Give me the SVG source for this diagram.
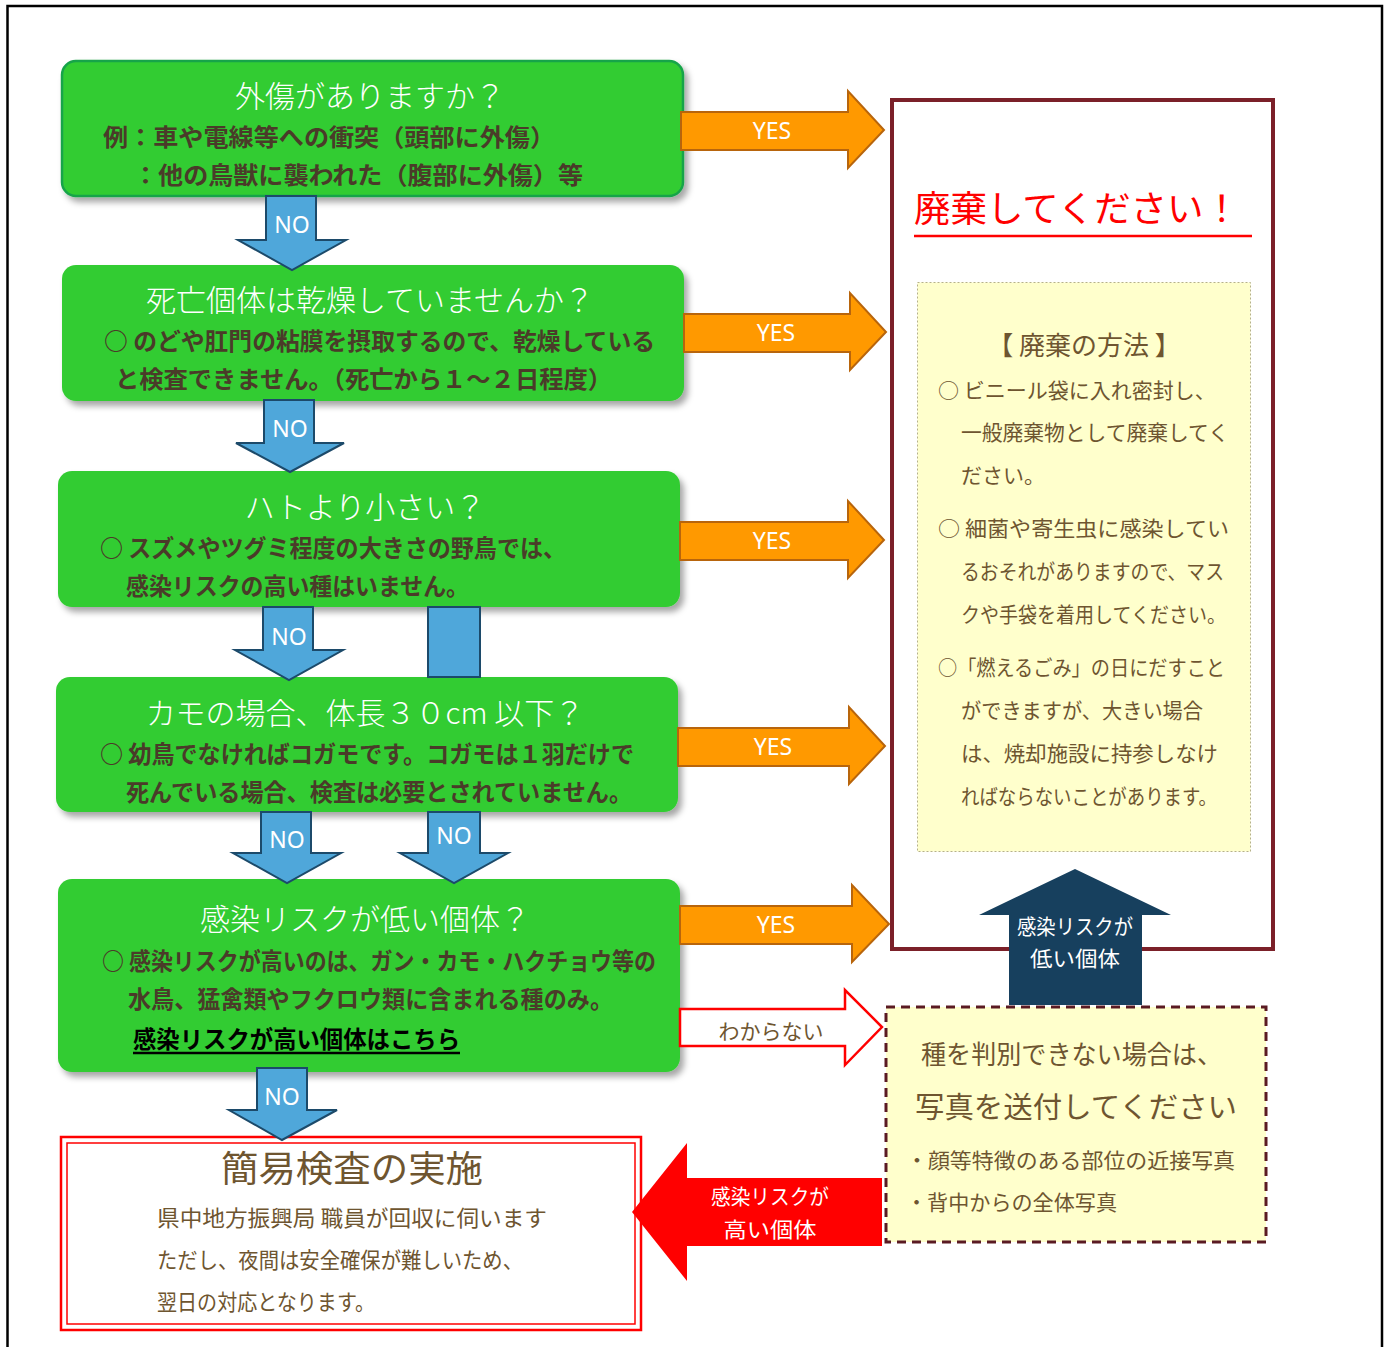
<svg xmlns="http://www.w3.org/2000/svg" width="1389" height="1347" viewBox="0 0 1389 1347">
<defs>
<filter id="sh" x="-5%" y="-10%" width="115%" height="130%">
<feDropShadow dx="4" dy="5" stdDeviation="3" flood-color="#000" flood-opacity="0.35"/>
</filter>
<style>
.gbox{fill:#33cc33;filter:url(#sh)}
.ttl{font-family:"Noto Sans CJK JP","Noto Sans",sans-serif;font-size:30px;fill:#ffffff;text-anchor:middle;font-weight:300}
.bd{font-family:"Noto Sans CJK JP","Noto Sans",sans-serif;font-size:24px;fill:#4a3b29;font-weight:700}
.blue{fill:#4fa7da;stroke:#1c4a6a;stroke-width:2}
.orange{fill:#ff9900;stroke:#b8650c;stroke-width:2}
.lbl{font-family:"Noto Sans","Noto Sans CJK JP",sans-serif;font-size:23px;fill:#ffffff;text-anchor:middle}
.br{font-family:"Noto Sans CJK JP","Noto Sans",sans-serif;fill:#6e5530}
.wt{font-family:"Noto Sans CJK JP","Noto Sans",sans-serif;fill:#ffffff;text-anchor:middle;font-size:21px}
</style>
</defs>
<rect x="7.5" y="6" width="1374.5" height="1400" fill="#ffffff" stroke="#000000" stroke-width="2.5"/>

<g id="q1">
<rect class="gbox" x="62" y="61" width="621" height="135" rx="14" stroke="#19a44a" stroke-width="2.5"/>
<text class="ttl" x="370" y="107">外傷がありますか？</text>
<text class="bd" x="103" y="146" textLength="452" lengthAdjust="spacingAndGlyphs">例：車や電線等への衝突（頭部に外傷）</text>
<text class="bd" x="133" y="184" textLength="450" lengthAdjust="spacingAndGlyphs">：他の鳥獣に襲われた（腹部に外傷）等</text>
</g>

<g id="q2">
<rect class="gbox" x="62" y="265" width="622" height="136" rx="14"/>
<text class="ttl" x="370" y="311">死亡個体は乾燥していませんか？</text>
<text class="bd" x="104" y="350" textLength="551" lengthAdjust="spacingAndGlyphs">○ のどや肛門の粘膜を摂取するので、乾燥している</text>
<text class="bd" x="115" y="388" textLength="497" lengthAdjust="spacingAndGlyphs">と検査できません。（死亡から１～２日程度）</text>
</g>

<g id="q3">
<rect class="gbox" x="58" y="471" width="622" height="136" rx="14"/>
<text class="ttl" x="365" y="518">ハトより小さい？</text>
<text class="bd" x="100" y="557" textLength="466" lengthAdjust="spacingAndGlyphs">○ スズメやツグミ程度の大きさの野鳥では、</text>
<text class="bd" x="126" y="595" textLength="343" lengthAdjust="spacingAndGlyphs">感染リスクの高い種はいません。</text>
</g>

<g id="q4">
<rect class="gbox" x="56" y="677" width="622" height="135" rx="14"/>
<text class="ttl" x="365" y="724">カモの場合、体長３０cm 以下？</text>
<text class="bd" x="100" y="763" textLength="534" lengthAdjust="spacingAndGlyphs">○ 幼鳥でなければコガモです。コガモは１羽だけで</text>
<text class="bd" x="126" y="801" textLength="506" lengthAdjust="spacingAndGlyphs">死んでいる場合、検査は必要とされていません。</text>
</g>

<g id="q5">
<rect class="gbox" x="58" y="879" width="622" height="193" rx="14"/>
<text class="ttl" x="365" y="930">感染リスクが低い個体？</text>
<text class="bd" x="102" y="970" textLength="554" lengthAdjust="spacingAndGlyphs">○ 感染リスクが高いのは、ガン・カモ・ハクチョウ等の</text>
<text class="bd" x="128" y="1008" textLength="485" lengthAdjust="spacingAndGlyphs">水鳥、猛禽類やフクロウ類に含まれる種のみ。</text>
<text class="bd" x="133" y="1048" textLength="327" lengthAdjust="spacingAndGlyphs" style="fill:#000">感染リスクが高い個体はこちら</text>
<line x1="133" y1="1053" x2="460" y2="1053" stroke="#000" stroke-width="2.5"/>
</g>

<g id="discard">
<rect x="892" y="100" width="381" height="849" fill="#ffffff" stroke="#7b2029" stroke-width="4"/>
<text x="914" y="222" font-family="Noto Sans CJK JP, sans-serif" font-size="36" fill="#ff0000" textLength="326" lengthAdjust="spacingAndGlyphs">廃棄してください！</text>
<line x1="914" y1="236" x2="1252" y2="236" stroke="#ff0000" stroke-width="2.5"/>
<rect x="917.5" y="282.5" width="333" height="569" fill="#ffffcc" stroke="#b5b08a" stroke-width="1" stroke-dasharray="2,2"/>
<text class="br" x="1084" y="355" font-size="26" text-anchor="middle">【 廃棄の方法 】</text>
<g font-size="21">
<text class="br" x="938" y="398">○ ビニール袋に入れ密封し、</text>
<text class="br" x="961" y="440" textLength="268" lengthAdjust="spacingAndGlyphs">一般廃棄物として廃棄してく</text>
<text class="br" x="961" y="483">ださい。</text>
<text class="br" x="938" y="536" textLength="291" lengthAdjust="spacingAndGlyphs">○ 細菌や寄生虫に感染してい</text>
<text class="br" x="961" y="579" textLength="263" lengthAdjust="spacingAndGlyphs">るおそれがありますので、マス</text>
<text class="br" x="961" y="622" textLength="265" lengthAdjust="spacingAndGlyphs">クや手袋を着用してください。</text>
<text class="br" x="938" y="675" textLength="287" lengthAdjust="spacingAndGlyphs">○「燃えるごみ」の日にだすこと</text>
<text class="br" x="961" y="718" textLength="242" lengthAdjust="spacingAndGlyphs">ができますが、大きい場合</text>
<text class="br" x="961" y="761" textLength="257" lengthAdjust="spacingAndGlyphs">は、焼却施設に持参しなけ</text>
<text class="br" x="961" y="804" textLength="256" lengthAdjust="spacingAndGlyphs">ればならないことがあります。</text>
</g>
</g>

<g id="unknown">
<rect x="886" y="1007" width="380" height="235" fill="#ffffcc" stroke="#5a1a22" stroke-width="3" stroke-dasharray="9,6"/>
<text class="br" x="921" y="1064" font-size="26" textLength="301" lengthAdjust="spacingAndGlyphs">種を判別できない場合は、</text>
<text class="br" x="915" y="1118" font-size="29" textLength="322" lengthAdjust="spacingAndGlyphs">写真を送付してください</text>
<text class="br" x="906" y="1168" font-size="21" textLength="329" lengthAdjust="spacingAndGlyphs">・顔等特徴のある部位の近接写真</text>
<text class="br" x="906" y="1210" font-size="21" textLength="211" lengthAdjust="spacingAndGlyphs">・背中からの全体写真</text>
</g>

<g id="inspect">
<rect x="61" y="1137" width="580" height="193" fill="#ffffff" stroke="#ff0000" stroke-width="2.5"/>
<rect x="67" y="1143" width="568" height="181" fill="none" stroke="#ff0000" stroke-width="1.5"/>
<text class="br" x="352" y="1182" font-size="36" text-anchor="middle" textLength="262" lengthAdjust="spacingAndGlyphs">簡易検査の実施</text>
<text class="br" x="157" y="1226" font-size="22" textLength="390" lengthAdjust="spacingAndGlyphs">県中地方振興局 職員が回収に伺います</text>
<text class="br" x="157" y="1268" font-size="22" textLength="366" lengthAdjust="spacingAndGlyphs">ただし、夜間は安全確保が難しいため、</text>
<text class="br" x="157" y="1310" font-size="22" textLength="218" lengthAdjust="spacingAndGlyphs">翌日の対応となります。</text>
</g>

<g id="connectors">
<path class="blue" d="M266,196 H316 V240 H346 L292,270 L238,240 H266 Z"/>
<text class="lbl" x="292" y="233">NO</text>
<path class="blue" d="M264,400 H314 V443 H344 L290,472 L236,443 H264 Z"/>
<text class="lbl" x="290" y="437">NO</text>
<path class="blue" d="M263,607 H313 V650 H343 L289,680 L235,650 H263 Z"/>
<text class="lbl" x="289" y="645">NO</text>
<rect class="blue" x="428" y="607" width="52" height="70"/>
<path class="blue" d="M261,812 H311 V853 H341 L287,883 L233,853 H261 Z"/>
<text class="lbl" x="287" y="848">NO</text>
<path class="blue" d="M428,812 H480 V853 H508 L454,883 L400,853 H428 Z"/>
<text class="lbl" x="454" y="844">NO</text>
<path class="blue" d="M257,1068 H307 V1110 H337 L282,1140 L229,1110 H257 Z"/>
<text class="lbl" x="282" y="1105">NO</text>

<path class="orange" d="M681,112 H848 V91 L884,130 L848,168 V150 H681 Z"/>
<text class="lbl" x="772" y="139">YES</text>
<path class="orange" d="M684,314 H850 V293 L886,332 L850,370 V352 H684 Z"/>
<text class="lbl" x="776" y="341">YES</text>
<path class="orange" d="M680,522 H848 V501 L884,540 L848,578 V560 H680 Z"/>
<text class="lbl" x="772" y="549">YES</text>
<path class="orange" d="M678,728 H849 V707 L885,746 L849,784 V766 H678 Z"/>
<text class="lbl" x="773" y="755">YES</text>
<path class="orange" d="M680,906 H852 V885 L889,924 L852,962 V944 H680 Z"/>
<text class="lbl" x="776" y="933">YES</text>

<path d="M680,1009 H845 V990 L882,1027 L845,1065 V1046 H680 Z" fill="#ffffff" stroke="#ff0000" stroke-width="2.5"/>
<text class="br" x="771" y="1039" font-size="21" text-anchor="middle">わからない</text>

<path d="M1009,1005 V915 H979 L1075,869 L1171,915 H1142 V1005 Z" fill="#17405e"/>
<text class="wt" x="1075" y="934" textLength="116" lengthAdjust="spacingAndGlyphs">感染リスクが</text>
<text class="wt" x="1075" y="966" textLength="90" lengthAdjust="spacingAndGlyphs">低い個体</text>

<path d="M882,1178 H687 V1143 L632,1212 L687,1281 V1246 H882 Z" fill="#ff0000"/>
<text class="wt" x="770" y="1204" textLength="118" lengthAdjust="spacingAndGlyphs">感染リスクが</text>
<text class="wt" x="770" y="1237" textLength="93" lengthAdjust="spacingAndGlyphs">高い個体</text>
</g>
</svg>
